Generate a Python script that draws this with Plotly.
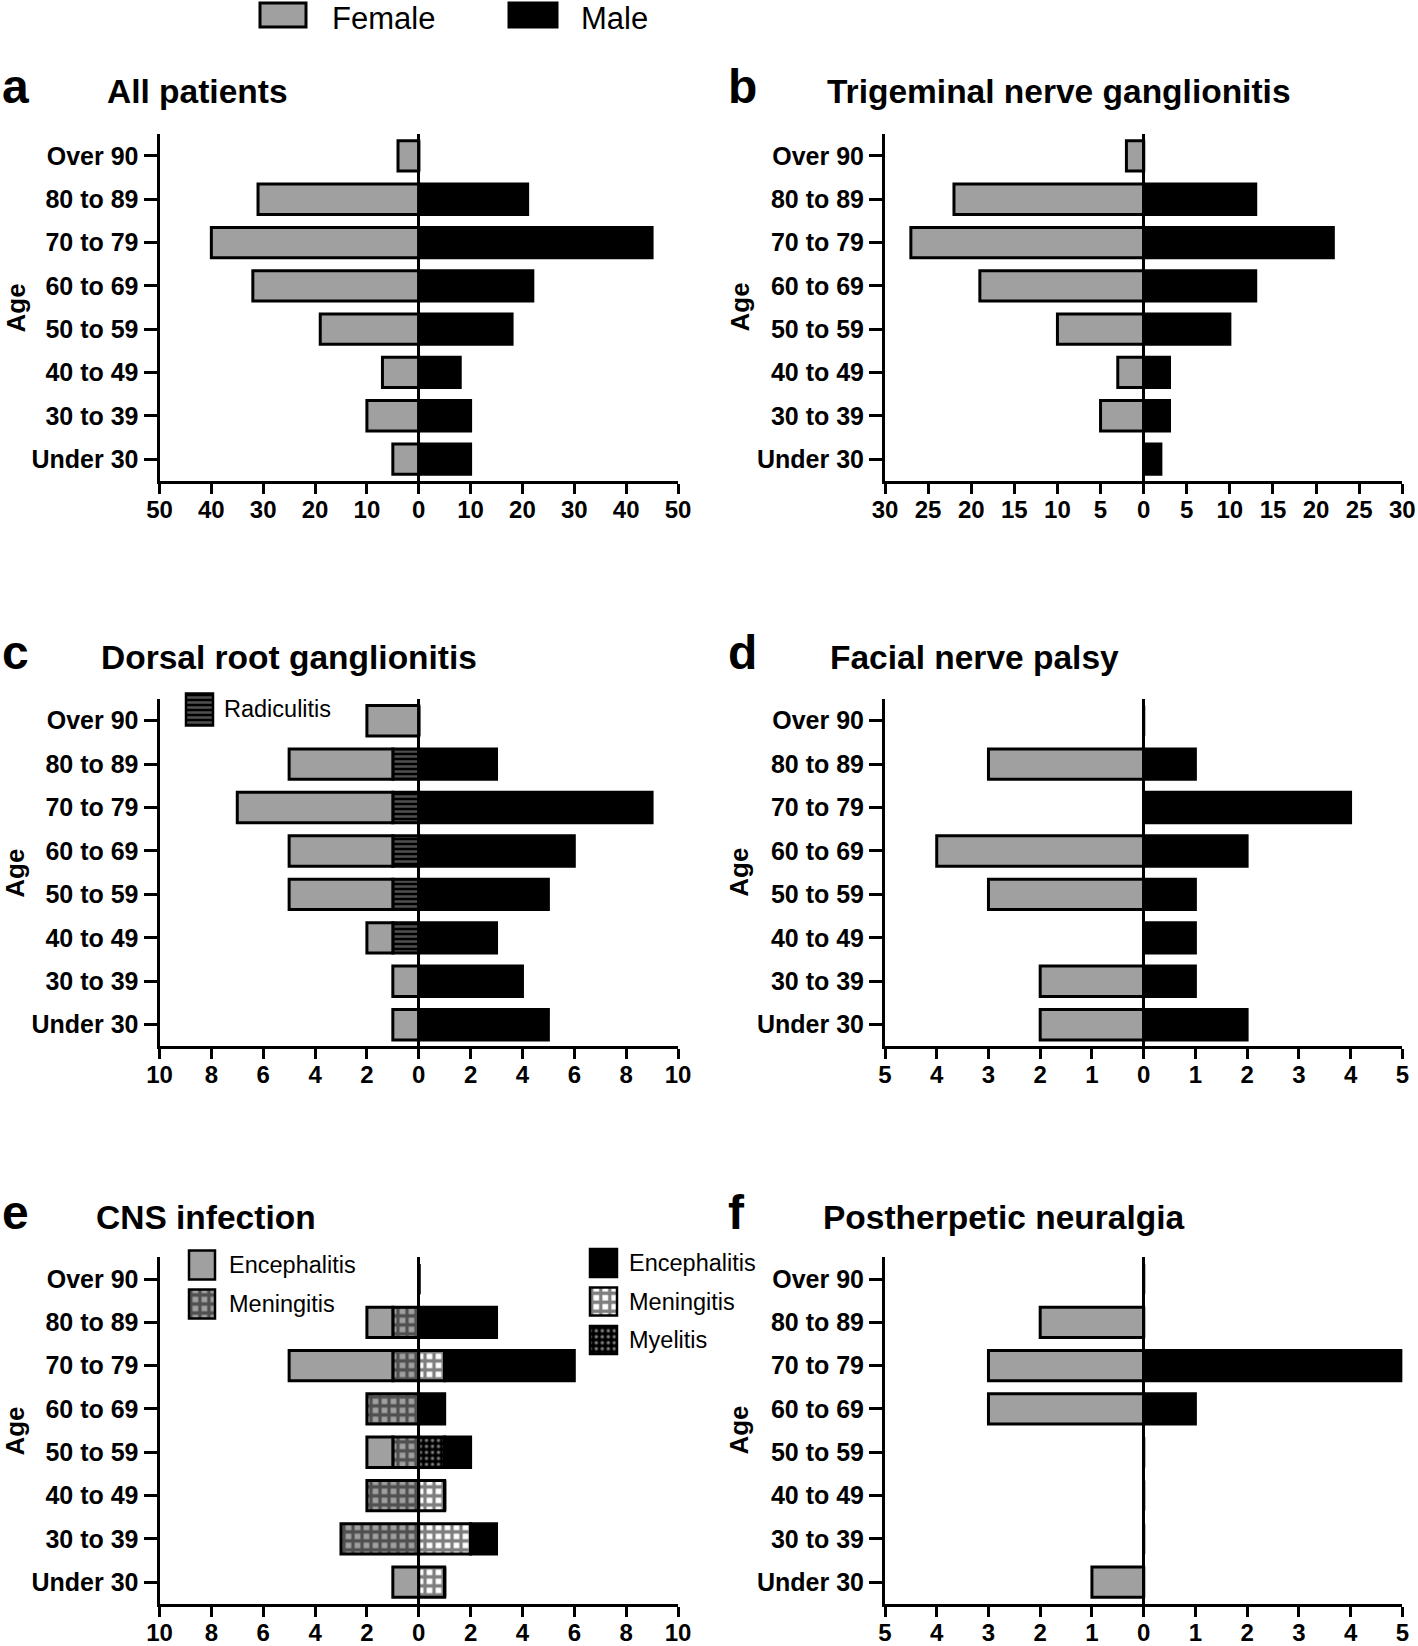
import plotly.graph_objects as go

W, H = 1418, 1646
FONT = "Arial, 'Liberation Sans', sans-serif"
GRAY = "#a0a0a0"

# ---------------- data ----------------
ages = ["Over 90", "80 to 89", "70 to 79", "60 to 69", "50 to 59", "40 to 49", "30 to 39", "Under 30"]

a_female = [4, 31, 40, 32, 19, 7, 10, 5]
a_male = [0, 21, 45, 22, 18, 8, 10, 10]

b_female = [2, 22, 27, 19, 10, 3, 5, 0]
b_male = [0, 13, 22, 13, 10, 3, 3, 2]

c_female_radiculitis = [0, 1, 1, 1, 1, 1, 0, 0]
c_female_other = [2, 4, 6, 4, 4, 1, 1, 1]
c_male = [0, 3, 9, 6, 5, 3, 4, 5]

d_female = [0, 3, 0, 4, 3, 0, 2, 2]
d_male = [0, 1, 4, 2, 1, 1, 1, 2]

e_female_meningitis = [0, 1, 1, 2, 1, 2, 3, 0]
e_female_encephalitis = [0, 1, 4, 0, 1, 0, 0, 1]
e_male_meningitis = [0, 0, 1, 0, 0, 1, 2, 1]
e_male_myelitis = [0, 0, 0, 0, 1, 0, 0, 0]
e_male_encephalitis = [0, 3, 5, 1, 1, 0, 1, 0]

f_female = [0, 2, 3, 3, 0, 0, 0, 1]
f_male = [0, 0, 5, 1, 0, 0, 0, 0]

ticks_50 = [50, 40, 30, 20, 10, 0, 10, 20, 30, 40, 50]
ticks_30 = [30, 25, 20, 15, 10, 5, 0, 5, 10, 15, 20, 25, 30]
ticks_10 = [10, 8, 6, 4, 2, 0, 2, 4, 6, 8, 10]
ticks_5 = [5, 4, 3, 2, 1, 0, 1, 2, 3, 4, 5]

titles = ["All patients", "Trigeminal nerve ganglionitis", "Dorsal root ganglionitis",
          "Facial nerve palsy", "CNS infection", "Postherpetic neuralgia"]
letters = ["a", "b", "c", "d", "e", "f"]
legend_sex = ["Female", "Male"]
legend_c = ["Radiculitis"]
legend_e_female = ["Encephalitis", "Meningitis"]
legend_e_male = ["Encephalitis", "Meningitis", "Myelitis"]

# ---------------- patterns ----------------
PAT_RADIC = dict(shape="-", fgcolor=GRAY, bgcolor="black", size=5, solidity=0.5)
PAT_MEN_F = dict(shape="+", fgcolor="black", bgcolor=GRAY, size=9, solidity=0.6)
PAT_MEN_M = dict(shape="+", fgcolor="black", bgcolor="white", size=9, solidity=0.6)
PAT_MYEL = dict(shape=".", fgcolor="white", bgcolor="black", size=6, solidity=0.25)


def px(x):
    return x / W


def py(y):
    return 1 - y / H


def signed(labels):
    mid = len(labels) // 2
    return [-v if i < mid else v for i, v in enumerate(labels)]


fig = go.Figure()

LINE = dict(color="black", width=3)


def bar(idx, vals, sign, color, pattern=None):
    marker = dict(color=color, line=LINE)
    if pattern:
        marker["pattern"] = pattern
    fig.add_trace(go.Bar(
        y=ages, x=[sign * v for v in vals], orientation="h", width=0.7,
        marker=marker, xaxis="x" if idx == 1 else f"x{idx}",
        yaxis="y" if idx == 1 else f"y{idx}", showlegend=False, hoverinfo="skip"))


# panel a
bar(1, a_female, -1, GRAY)
bar(1, a_male, 1, "black")
# panel b
bar(2, b_female, -1, GRAY)
bar(2, b_male, 1, "black")
# panel c (stack: radiculitis nearest zero)
bar(3, c_female_radiculitis, -1, "black", PAT_RADIC)
bar(3, c_female_other, -1, GRAY)
bar(3, c_male, 1, "black")
# panel d
bar(4, d_female, -1, GRAY)
bar(4, d_male, 1, "black")
# panel e
bar(5, e_female_meningitis, -1, GRAY, PAT_MEN_F)
bar(5, e_female_encephalitis, -1, GRAY)
bar(5, e_male_meningitis, 1, "white", PAT_MEN_M)
bar(5, e_male_myelitis, 1, "black", PAT_MYEL)
bar(5, e_male_encephalitis, 1, "black")
# panel f
bar(6, f_female, -1, GRAY)
bar(6, f_male, 1, "black")

# ---------------- layout of panels ----------------
LEFT = (159.5, 678.0)
RIGHT = (885.0, 1402.3)
ROWS = [(134.3, 480.7), (699.0, 1046.4), (1257.4, 1603.8)]
panel_ticks = [ticks_50, ticks_30, ticks_10, ticks_5, ticks_10, ticks_5]

layout = dict(
    width=W, height=H, autosize=False, margin=dict(l=0, r=0, t=0, b=0, pad=0, autoexpand=False),
    paper_bgcolor="white", plot_bgcolor="rgba(0,0,0,0)",
    barmode="relative", font=dict(family=FONT, color="black"),
    showlegend=False,
)

annotations = []
shapes = []

for i in range(6):
    idx = i + 1
    col = LEFT if i % 2 == 0 else RIGHT
    row = ROWS[i // 2]
    labels = panel_ticks[i]
    vals = signed(labels)
    m = labels[0]
    xk = "xaxis" if idx == 1 else f"xaxis{idx}"
    yk = "yaxis" if idx == 1 else f"yaxis{idx}"
    layout[xk] = dict(
        domain=[px(col[0]), px(col[1])], anchor="y" if idx == 1 else f"y{idx}",
        range=[-m, m], tickvals=vals, ticktext=[str(v) for v in labels],
        showline=True, linewidth=3, linecolor="black", ticks="outside", ticklen=10,
        tickwidth=3, tickcolor="black", zeroline=True, zerolinewidth=3,
        zerolinecolor="black", showgrid=False, layer="above traces", automargin=False,
        ticklabelstandoff=-5,
        tickfont=dict(size=24, family=FONT, weight="bold"), fixedrange=True)
    layout[yk] = dict(
        domain=[py(row[1]), py(row[0])], anchor="x" if idx == 1 else f"x{idx}",
        type="category", categoryorder="array", categoryarray=ages,
        range=[7.5, -0.5], showline=True, linewidth=3, linecolor="black",
        ticks="outside", ticklen=13, tickwidth=3, tickcolor="black", automargin=False,
        showgrid=False, zeroline=False, layer="above traces",
        tickfont=dict(size=25, family=FONT, weight="bold"), fixedrange=True)

    # panel letter and title
    row_title_y = [91, 656, 1216][i // 2]
    lx = 0 if i % 2 == 0 else 726
    tx = [105, 825, 99, 828, 94, 821][i]
    annotations.append(dict(text=letters[i], x=px(lx), y=py(row_title_y - 4), xref="paper",
                            yref="paper", xanchor="left", yanchor="middle", showarrow=False,
                            font=dict(size=48, family=FONT, weight="bold")))
    annotations.append(dict(text=titles[i], x=px(tx), y=py(row_title_y + 1), xref="paper",
                            yref="paper", xanchor="left", yanchor="middle", showarrow=False,
                            font=dict(size=33.5, family=FONT, weight="bold")))
    # axis title
    ax_x = 15 if i % 2 == 0 else 739
    annotations.append(dict(text="Age", x=px(ax_x), y=py((row[0] + row[1]) / 2),
                            xref="paper", yref="paper", xanchor="center", yanchor="middle",
                            textangle=-90, showarrow=False,
                            font=dict(size=26, family=FONT, weight="bold")))

# ---------------- top legend (solid swatches) ----------------
sw = [(260, 306, GRAY), (509, 557, "black")]
txt_x = [331, 580]
for (x0, x1, c), tx, lab in zip(sw, txt_x, legend_sex):
    shapes.append(dict(type="rect", xref="paper", yref="paper", x0=px(x0), x1=px(x1),
                       y0=py(27), y1=py(3), fillcolor=c, line=dict(color="black", width=3)))
    annotations.append(dict(text=lab, x=px(tx), y=py(0), xref="paper", yref="paper",
                            xanchor="left", yanchor="top", showarrow=False, borderpad=0,
                            font=dict(size=31, family=FONT)))


# ---------------- patterned legend swatches (mini axes) ----------------
def mini_legend(axn, x0, x1, centers, sw_h, labels, colors, patterns, text_x):
    n = len(labels)
    s = (centers[-1] - centers[0]) / (n - 1) if n > 1 else sw_h + 7
    top = centers[0] - s / 2
    bot = centers[-1] + s / 2
    w = x1 - x0
    layout[f"xaxis{axn}"] = dict(domain=[px(x0 - 0.1 * w), px(x1 + 0.1 * w)], range=[-0.1, 1.1],
                                 visible=False, anchor=f"y{axn}", fixedrange=True, automargin=False)
    layout[f"yaxis{axn}"] = dict(domain=[py(bot), py(top)], range=[n - 0.5, -0.5],
                                 visible=False, anchor=f"x{axn}", fixedrange=True, automargin=False,
                                 type="category", categoryorder="array", categoryarray=labels)
    for lab, col, pat in zip(labels, colors, patterns):
        mk = dict(color=col, line=dict(color="black", width=2.5))
        if pat:
            mk["pattern"] = pat
        fig.add_trace(go.Bar(y=[lab], x=[1], orientation="h", width=sw_h / s,
                             marker=mk, xaxis=f"x{axn}", yaxis=f"y{axn}",
                             showlegend=False, hoverinfo="skip"))
    for lab, c in zip(labels, centers):
        annotations.append(dict(text=lab, x=px(text_x), y=py(c), xref="paper", yref="paper",
                                xanchor="left", yanchor="middle", showarrow=False,
                                font=dict(size=23.5, family=FONT)))


mini_legend(7, 186, 213, [709.5], 32, legend_c, ["black"], [PAT_RADIC], 222)
mini_legend(8, 189, 215, [1265, 1304], 29, legend_e_female, [GRAY, GRAY], [None, PAT_MEN_F], 227)
mini_legend(9, 590, 617, [1263, 1301.5, 1340], 28, legend_e_male, ["black", "white", "black"],
            [None, PAT_MEN_M, PAT_MYEL], 627)

layout["annotations"] = annotations
layout["shapes"] = shapes
fig.update_layout(**layout)

fig.write_html("out.html", config={"displayModeBar": False, "responsive": False},
               post_script="document.body.style.margin='0';")
